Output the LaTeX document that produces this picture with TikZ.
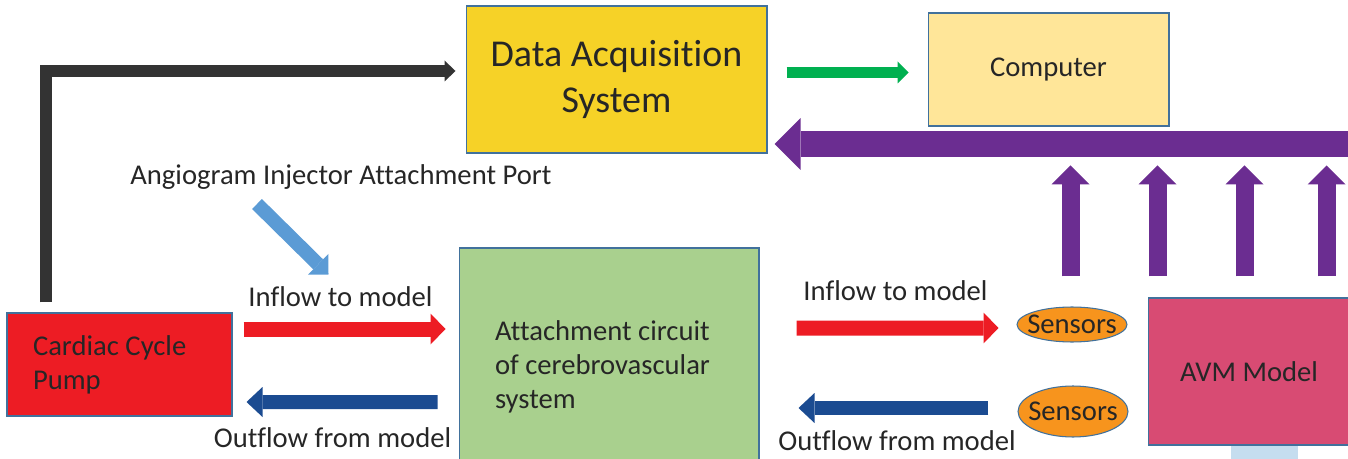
\documentclass[tikz,border=0pt]{standalone}
\usepackage{fontspec}
\setmainfont[Ligatures=NoCommon]{Carlito}
\usetikzlibrary{arrows.meta,positioning,calc,shapes.geometric}
\definecolor{acqYellow}{RGB}{246,210,39}
\definecolor{pcYellow}{RGB}{255,230,153}
\definecolor{linkGreen}{RGB}{0,176,80}
\definecolor{busPurple}{RGB}{107,45,145}
\definecolor{pumpRed}{RGB}{237,28,36}
\definecolor{returnBlue}{RGB}{27,75,145}
\definecolor{portBlue}{RGB}{91,155,213}
\definecolor{circuitGreen}{RGB}{169,208,142}
\definecolor{sensorOrange}{RGB}{247,148,29}
\definecolor{avmPink}{RGB}{216,75,115}
\definecolor{edgeBlue}{RGB}{65,113,156}
\definecolor{triggerGray}{RGB}{51,51,51}
\definecolor{standBlue}{RGB}{197,221,239}
\definecolor{inkGray}{RGB}{38,38,38}

\begin{document}
\begin{tikzpicture}[
  x=0.02cm, y=-0.02cm,
  every node/.style={font=\fontsize{16.3}{19.3}\selectfont, text=inkGray},
  block/.style={draw=edgeBlue, line width=0.6pt, inner sep=0pt},
  sensor/.style={block, ellipse, fill=sensorOrange, inner xsep=-4.5pt,
                 inner ysep=-1pt, minimum width=2.2cm},
  tip/.style args={#1x#2}{-{Triangle[length=#1, width=#2, line width=0pt]}},
  trigger/.style={draw=triggerGray, line width=0.24cm, tip=0.22cm x 0.42cm},
  datalink/.style={draw=linkGreen, line width=0.22cm, tip=0.22cm x 0.44cm},
  bus/.style={draw=busPurple, line width=0.52cm, tip=0.52cm x 1.04cm},
  readout/.style={draw=busPurple, line width=0.36cm, tip=0.38cm x 0.76cm},
  inflow/.style={draw=pumpRed, line width=0.30cm, tip=0.30cm x 0.62cm},
  outflow/.style={draw=returnBlue, line width=0.28cm, tip=0.32cm x 0.60cm},
  inject/.style={draw=portBlue, line width=0.28cm, tip=0.29cm x 0.58cm},
]
\useasboundingbox (0,0) rectangle (1348,459);

% blocks
\node[block, fill=acqYellow, minimum width=6.02cm, minimum height=2.94cm,
      align=center, font=\fontsize{21.6}{26.6}\selectfont] (das) at (616.5,79.5)
  {Data Acquisition\\System};
\node[block, fill=pcYellow, minimum width=4.82cm, minimum height=2.26cm,
      font=\fontsize{16.3}{19}\selectfont] (computer) at (1048.5,69.5) {Computer};
\node[block, fill=pumpRed, minimum height=2.06cm, inner xsep=0.52cm,
      text width=3.46cm, align=flush left] (pump) at (119.5,364.5)
  {Cardiac Cycle\\Pump};
\node[block, fill=circuitGreen, minimum height=4.76cm, inner xsep=0.72cm,
      text width=4.56cm, align=flush left] (circuit) at (609,367)
  {Attachment circuit\\of cerebrovascular\\system};
\fill[standBlue] (1231,445) rectangle (1298,470);
\node[block, fill=avmPink, minimum width=4.04cm, minimum height=2.94cm]
  (avm) at (1249,371.5) {AVM Model};
\node[sensor, minimum height=0.7cm] (sensin) at (1072,324.5) {Sensors};
\node[sensor, minimum height=1.02cm] (sensout) at (1073,411.5) {Sensors};

% labels
\node[anchor=base west, inner sep=0pt] (port) at (130,185)
  {Angiogram Injector Attachment Port};
\node[anchor=base] (inL) at (340.5,306) {Inflow to model};
\node[anchor=base] (outL) at (332.5,447) {Outflow from model};
\node[anchor=base] (inR) at (895.5,300) {Inflow to model};
\node[anchor=base] (outR) at (897,450) {Outflow from model};

% signal path
\draw[trigger] ($(pump.north west)+(39.5,-10)$) |- ($(das.west)+(-10,-8.5)$);
\draw[datalink] ($(das.east)+(19,-7)$) -- ($(computer.west)+(-19,3)$);
\coordinate (busend) at (1352,144);
\draw[bus] (busend) -- ($(das.east |- busend)+(7,0)$);
\foreach \dx in {-77,10,97,179}
  \draw[readout] ($(avm.north west)+(\dx,-21)$) -- ++(0,-111);

% flow loop
\draw[inject] ($(port.base west)+(127,19)$) -- ($(circuit.north west)+(-130,27)$);
\draw[inflow] ($(pump.east)+(11,-35.5)$) -- ($(circuit.west)+(-13,-38)$);
\draw[outflow] ($(circuit.west)+(-21,35)$) -- ($(pump.east)+(14,37.5)$);
\draw[inflow] ($(circuit.east)+(37,-39)$) -- ($(sensin.west)+(-18,3.5)$);
\draw[outflow] ($(sensout.west)+(-29,-3.5)$) -- ($(circuit.east)+(39,41)$);
\end{tikzpicture}
\end{document}
